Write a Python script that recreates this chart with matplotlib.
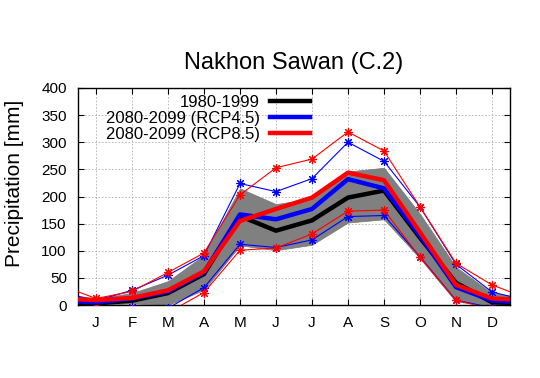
import numpy as np
import matplotlib.pyplot as plt

plt.rcParams['font.family'] = ['Liberation Sans', 'DejaVu Sans']

months = ['J', 'F', 'M', 'A', 'M', 'J', 'J', 'A', 'S', 'O', 'N', 'D']

# monthly means
base = [3, 8, 22, 57, 164, 137, 156, 198, 211, 124, 41, 5]
rcp45 = [5, 12, 25, 60, 167, 158, 177, 232, 215, 128, 33, 8]
rcp85 = [9, 13, 27, 62, 155, 177, 198, 244, 230, 134, 37, 12]

# spread of the baseline (grey band)
base_hi = [12, 22, 44, 92, 215, 186, 196, 246, 253, 168, 70, 22]
base_lo = [0, 3, 0, 28, 110, 101, 111, 152, 158, 86, 6, 0]

# spread of the scenarios (thin lines with stars)
rcp45_hi = [8, 27, 55, 91, 224, 209, 233, 300, 265, 181, 75, 24]
rcp45_lo = [-1, -4, -6, 32, 112, 106, 120, 163, 165, 89, 9, -5]
rcp85_hi = [12, 25, 60, 96, 203, 253, 269, 319, 284, 181, 77, 37]
rcp85_lo = [-2, -8, -14, 23, 101, 105, 131, 173, 175, 88, 9, -8]


def wrap(v):
    # repeat Dec before Jan and Jan after Dec so the lines run to the frame
    return np.array([v[-1]] + list(v) + [v[0]])


x = np.arange(0, 14)

fig = plt.figure(figsize=(5.4, 3.78), dpi=100)
ax = fig.add_axes([0.1444, 0.1931, 0.8, 0.5741])

ax.fill_between(x, wrap(base_lo), wrap(base_hi), color='#808080', lw=0.5,
                edgecolor='#777777', zorder=1)

star = (8, 2, 0)
for lo, hi, c in [(rcp45_lo, rcp45_hi, '#0000ff'), (rcp85_lo, rcp85_hi, '#ff0000')]:
    ax.plot(x, wrap(hi), color=c, lw=0.8, marker=star, ms=6.5, mew=0.8, zorder=3)
    ax.plot(x, wrap(lo), color=c, lw=0.8, marker=star, ms=6.5, mew=0.8, zorder=3)

ax.plot(x, wrap(base), color='black', lw=3.2, label='1980-1999', zorder=4)
ax.plot(x, wrap(rcp45), color='#0000ff', lw=3.2, label='2080-2099 (RCP4.5)', zorder=5)
ax.plot(x, wrap(rcp85), color='#ff0000', lw=3.2, label='2080-2099 (RCP8.5)', zorder=6)

ax.set_xlim(0.5, 12.5)
ax.set_ylim(0, 400)
ax.set_xticks(np.arange(1, 13))
ax.set_xticklabels(months)
ax.set_yticks(np.arange(0, 401, 50))
ax.tick_params(direction='in', top=True, right=True, labelsize=11, length=4, pad=8)
ax.grid(True, color='#b0b0b0', ls=(0, (2, 2)), lw=0.6)
ax.set_axisbelow(True)
for s in ax.spines.values():
    s.set_linewidth(1.0)

ax.set_ylabel('Precipitation [mm]', fontsize=15)
ax.yaxis.set_label_coords(-0.125, 0.56)
ax.set_title('Nakhon Sawan (C.2)', fontsize=17, pad=14)

leg = ax.legend(loc='upper right', bbox_to_anchor=(0.545, 0.985), markerfirst=False,
                frameon=False, fontsize=12, handlelength=2.4, labelspacing=0.08,
                borderaxespad=0.0, borderpad=0.2, handletextpad=0.6)
leg.set_zorder(10)

fig.savefig('out.png', dpi=100)
